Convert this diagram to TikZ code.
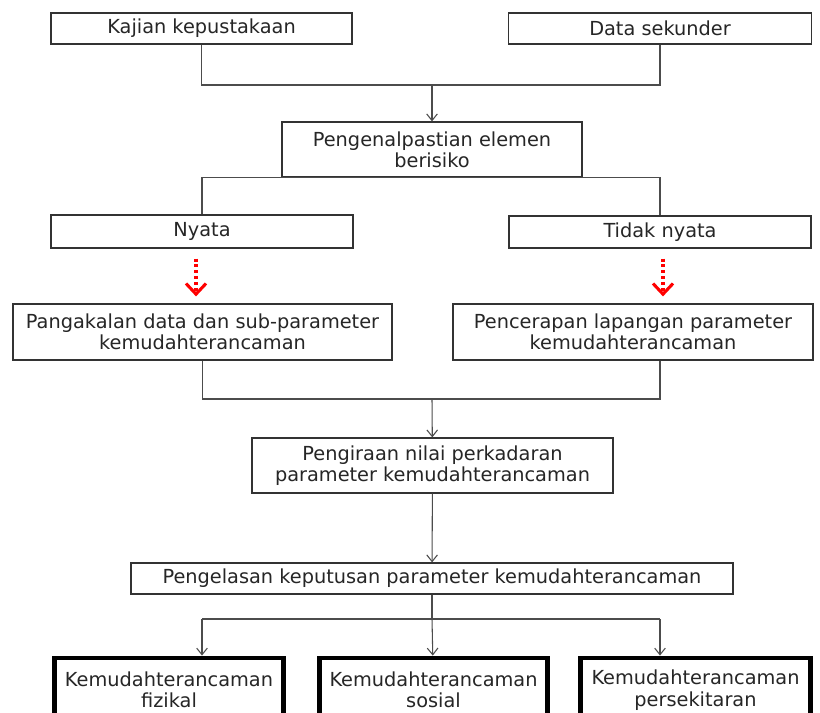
\documentclass[tikz,border=0pt]{standalone}
\usepackage{fontspec}
\setmainfont{DejaVu Sans}
\usetikzlibrary{calc}
\usetikzlibrary{arrows.meta}

\begin{document}
\begin{tikzpicture}[x=0.75pt, y=-0.75pt,
		box/.style={draw=black!80, line width=0.9pt, fill=white, align=center, inner sep=0pt, text=black!85, font=\fontsize{14.5}{16}\selectfont},
		outbox/.style={box, draw=black, line width=3.6pt},
		line/.style={draw=black!70, line width=0.8pt},
		arr/.style={line, -{Straight Barb[length=5pt,width=8pt]}},
		redarr/.style={draw=red, line width=2.3pt, dash pattern=on 2.2pt off 2.2pt, -{Straight Barb[length=8pt,width=15pt]}}]

			\useasboundingbox (0,0) rectangle (820,713);

			\node[box, minimum width=225.75pt, minimum height=23.25pt] (kajian) at (201.5,28.5) {Kajian kepustakaan};
			\node[box, minimum width=227.25pt, minimum height=23.25pt] (data) at (660,28.5) {Data sekunder};
			\node[box, minimum width=225pt, minimum height=41.25pt] (kenal) at (432,149.5) {Pengenalpastian elemen\\berisiko};
			\node[box, minimum width=226.5pt, minimum height=24.75pt] (nyata) at (202,231.5) {Nyata};
			\node[box, minimum width=226.5pt, minimum height=24pt] (tidak) at (660,232) {Tidak nyata};
			\node[box, minimum width=284.25pt, minimum height=42pt] (pangkalan) at (202.5,332) {Pangakalan data dan sub-parameter\\kemudahterancaman};
			\node[box, minimum width=270pt, minimum height=42pt] (cerap) at (633,332) {Pencerapan lapangan parameter\\kemudahterancaman};
			\node[box, minimum width=270.75pt, minimum height=41.25pt] (kira) at (432.5,465.5) {Pengiraan nilai perkadaran\\parameter kemudahterancaman};
			\node[box, minimum width=451.5pt, minimum height=23.25pt] (kelas) at (432,578.5) {Pengelasan keputusan parameter kemudahterancaman};
			\node[outbox, minimum width=171.75pt, minimum height=48pt] (fizikal) at (169,690) {Kemudahterancaman\\fizikal};
			\node[outbox, minimum width=171pt, minimum height=48pt] (sosial) at (433.5,690) {Kemudahterancaman\\sosial};
			\node[outbox, minimum width=172.5pt, minimum height=48pt] (sekitar) at (695.5,690) {Kemudahterancaman\\persekitaran};

			\coordinate (ja) at (432,85);
			\coordinate (jb) at (432,399);
			\coordinate (jc) at (432,619);

			\draw[line] (kajian) |- (ja);
			\draw[line] (data) |- (ja);
			\draw[arr] (ja)--(kenal);
			\draw[line] (nyata) |- (kenal.south) -| (tidak);

			\draw[redarr] ($(nyata.south)+(-6,10)$)--($(pangkalan.north)+(-6.5,-7)$);
			\draw[redarr] ($(tidak.south)+(3,10)$)--($(tidak.south |- cerap.north)+(3,-7)$);

			\draw[line] (pangkalan) |- (jb);
			\draw[line] (cerap.south -| tidak) |- (jb);
			\draw[arr] (jb)--(kira);
			\draw[arr] (kira)--(kelas);

			\draw[line] (kelas)--(jc);
			\draw[line] (jc -| nyata)--(jc -| tidak);
			\draw[arr] (jc -| nyata)--(fizikal.north -| nyata);
			\draw[arr] (jc)--(sosial);
			\draw[arr] (jc -| tidak)--(sekitar.north -| tidak);
		\end{tikzpicture}
\end{document}
